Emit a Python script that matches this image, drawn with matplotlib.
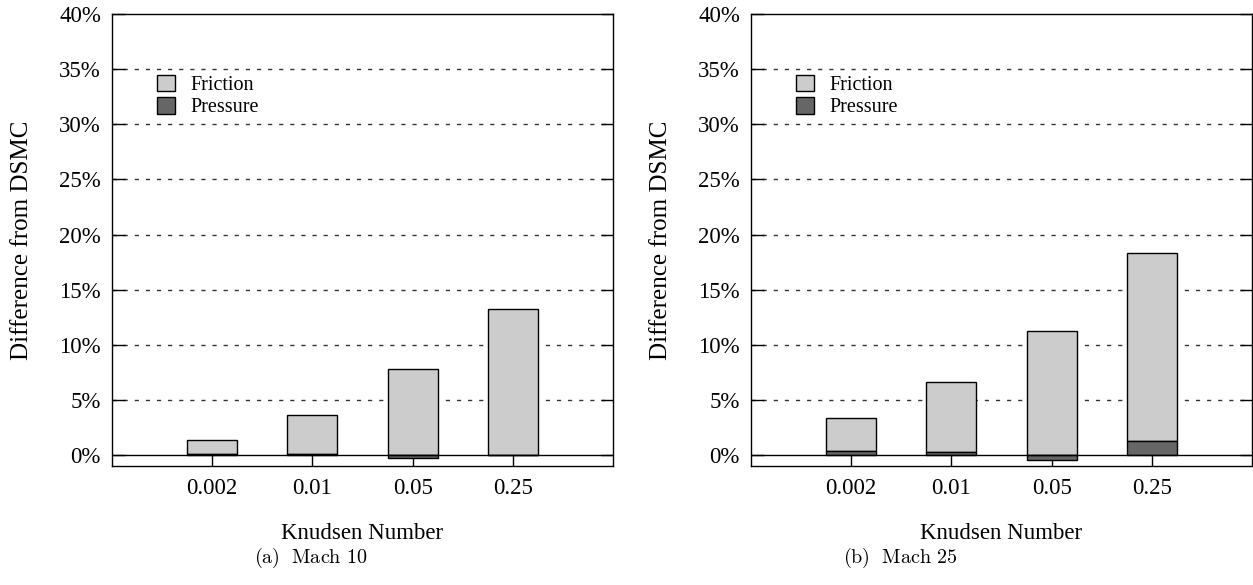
import numpy as np
import matplotlib
matplotlib.use("Agg")
import matplotlib.pyplot as plt
from matplotlib.patches import Patch

# Knudsen numbers on the x axis
knudsen = ["0.002", "0.01", "0.05", "0.25"]
y_ticks = [0, 5, 10, 15, 20, 25, 30, 35, 40]
y_tick_labels = ["0%", "5%", "10%", "15%", "20%", "25%", "30%", "35%", "40%"]

# Difference from DSMC (%), split into pressure and friction parts
mach10_pressure = [0.15, 0.09, -0.20, 0.0]
mach10_friction = [1.24, 3.53, 7.84, 13.3]
mach25_pressure = [0.36, 0.30, -0.43, 1.27]
mach25_friction = [3.02, 6.37, 11.29, 17.08]

plt.rcParams['font.family'] = ['Liberation Serif', 'DejaVu Serif']
plt.rcParams['mathtext.fontset'] = 'cm'

W, H = 1253, 585
fig = plt.figure(figsize=(W / 100.0, H / 100.0), dpi=100)

friction_color = '#cccccc'
pressure_color = '#666666'


def draw_panel(left_px, pressure, friction, caption, caption_x):
    ax = fig.add_axes([left_px / W, (H - 466) / H, 501.0 / W, 452.0 / H])
    x = np.arange(1, len(knudsen) + 1)
    pressure = np.array(pressure)
    friction = np.array(friction)

    ax.bar(x, friction, width=0.5, bottom=np.maximum(pressure, 0),
           color=friction_color, edgecolor='black', linewidth=1.0, zorder=2)
    ax.bar(x, pressure, width=0.5, color=pressure_color,
           edgecolor='black', linewidth=1.0, zorder=2)

    # dotted reference lines between the spines
    for yv in y_ticks[1:-1]:
        ax.axhline(yv, color='#333333', linewidth=1.0,
                   linestyle=(0, (3, 5)), zorder=1)
    ax.axhline(0, color='black', linewidth=1.0, zorder=3)

    ax.set_xlim(0, len(knudsen) + 1)
    ax.set_ylim(-0.97, 40)
    ax.set_xticks(x)
    ax.set_xticklabels(knudsen, fontsize=16.5)
    ax.set_yticks(y_ticks)
    ax.set_yticklabels(y_tick_labels, fontsize=16.5)
    ax.tick_params(axis='x', direction='in', length=7.7, width=1.0, pad=9)
    ax.tick_params(axis='y', direction='in', length=9, width=1.0, pad=8,
                   right=True)
    for sp in ax.spines.values():
        sp.set_linewidth(1.0)

    ax.set_ylabel('Difference from DSMC', fontsize=18, labelpad=19)
    ax.set_xlabel('Knudsen Number', fontsize=16.5, labelpad=17)

    handles = [Patch(facecolor=friction_color, edgecolor='black', label='Friction'),
               Patch(facecolor=pressure_color, edgecolor='black', label='Pressure')]
    ax.legend(handles=handles, loc='upper left', bbox_to_anchor=(0.09, 0.866),
              frameon=False, fontsize=14.5, handlelength=0.9, handleheight=0.9,
              handletextpad=0.75, labelspacing=0.1, borderaxespad=0,
              borderpad=0)

    fig.text(caption_x / W, 1 - 558.0 / H, caption, fontsize=14.5,
             ha='center', va='center')
    return ax


draw_panel(112, mach10_pressure, mach10_friction,
           r'$\mathrm{(a)\ \ Mach\ 10}$', 311)
draw_panel(751, mach25_pressure, mach25_friction,
           r'$\mathrm{(b)\ \ Mach\ 25}$', 900)

fig.savefig('out.png', dpi=100)
